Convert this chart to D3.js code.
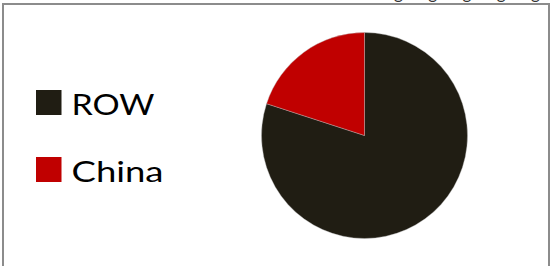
<!DOCTYPE html>
<html>
<head>
<meta charset="utf-8">
<script src="https://cdn.jsdelivr.net/npm/d3@7"></script>
<style>
  body { margin: 0; background: #fff; }
  svg { display: block; }
  .legText { font-family: Lato, "Open Sans", sans-serif; fill: #000; }
</style>
</head>
<body>
<div id="chart"></div>
<script>
// pie: share of production, China vs rest of world

var categories = ["ROW", "China"];
var values = [80, 20];
var colors = ["#201d13", "#c00000"];
// bits of labels from above the frame, only their tails show
var topFragments = ["g", "g", "g", "g", "g"];

var svgWidth = 551;
var svgHeight = 266;

var svg = d3.select("#chart")
    .append("svg")
    .attr("width", svgWidth)
    .attr("height", svgHeight);

// frame
svg.append("rect")
    .attr("x", 3)
    .attr("y", 4)
    .attr("width", 546)
    .attr("height", 300)
    .attr("fill", "none")
    .attr("stroke", "#8c8c8c")
    .attr("stroke-width", 2);

// cut off text at the very top
var fragX = d3.scalePoint()
    .domain(d3.range(topFragments.length))
    .range([394, 531]);

svg.append("g").selectAll("text")
    .data(topFragments)
    .enter()
    .append("text")
    .attr("x", (d, i) => fragX(i))
    .attr("y", -1)
    .attr("font-family", "Lato, sans-serif")
    .attr("font-size", 17)
    .attr("fill", "#333")
    .text(d => d);

// Pie
var cx = 364.5, cy = 135.5, radius = 103;

var pie = d3.pie()
    .sort(null)
    .value(d => d);

var arc = d3.arc()
    .innerRadius(0)
    .outerRadius(radius);

var color = d3.scaleOrdinal()
    .domain(categories)
    .range(colors);

var pieGroup = svg.append("g")
    .attr("transform", `translate(${cx},${cy})`);

pieGroup.selectAll("path")
    .data(pie(values))
    .enter()
    .append("path")
    .attr("d", arc)
    .attr("fill", (d, i) => color(categories[i]))
    .attr("stroke", "#bbb")
    .attr("stroke-width", 0.4);

// Legend
var legY = d3.scalePoint()
    .domain(categories)
    .range([103, 170]);

var legend = svg.append("g").selectAll("g")
    .data(categories)
    .enter()
    .append("g")
    .attr("transform", d => `translate(36,${legY(d)})`);

legend.append("rect")
    .attr("x", 0)
    .attr("y", -13)
    .attr("width", 25.5)
    .attr("height", 25)
    .attr("fill", d => color(d));

legend.append("text")
    .attr("class", "legText")
    .attr("x", 35.5)
    .attr("y", 11.5)
    .attr("font-size", 29)
    .attr("textLength", (d, i) => [83, 92][i])
    .attr("lengthAdjust", "spacingAndGlyphs")
    .text(d => d);
</script>
</body>
</html>
